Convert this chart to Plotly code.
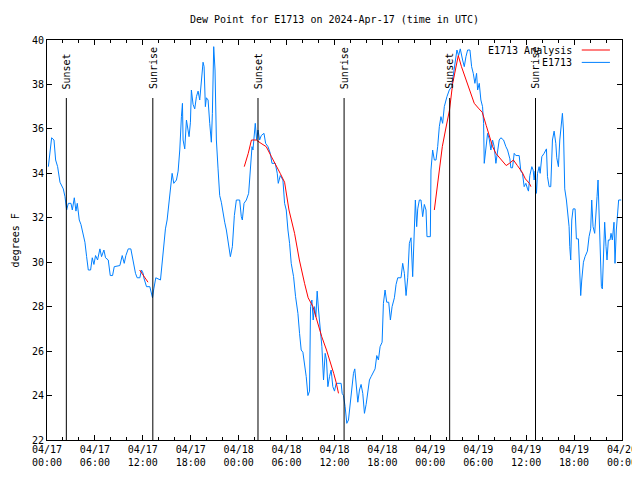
import pandas as pd
import plotly.graph_objects as go

base_date = "2024-04-17 00:00"
title_text = "Dew Point for E1713 on 2024-Apr-17 (time in UTC)"

# Observed dew point (hours since 04/17 00:00 UTC, degrees F)
obs_hours = [0.17, 0.375, 0.58, 0.875, 1.08, 1.33, 1.625, 2.04, 2.25, 2.46, 2.67, 3.0, 3.17, 3.42, 3.625, 3.79,
             4.04, 4.25, 4.54, 4.75, 4.96, 5.17, 5.46, 5.67, 5.875, 6.08, 6.33, 6.625, 6.83, 7.125, 7.33, 7.67,
             7.92, 8.21, 8.42, 9.125, 9.42, 9.67, 9.875, 10.17, 10.5, 10.79, 11.08, 11.29, 11.625, 11.83, 12.04,
             12.125, 12.46, 12.875, 13.08, 13.21, 13.375, 13.625, 14.21, 14.42, 14.625, 14.83, 15.04, 15.29,
             15.46, 15.67, 15.875, 16.21, 16.42, 16.625, 16.83, 16.96, 17.04, 17.25, 17.46, 17.67, 17.79, 17.96,
             18.08, 18.29, 18.5, 18.71, 18.92, 19.125, 19.33, 19.54, 19.67, 19.83, 19.96, 20.17, 20.375, 20.58,
             20.71, 20.875, 21.04, 21.21, 21.42, 21.625, 21.83, 22.04, 22.25, 22.46, 22.67, 22.96, 23.21, 23.46,
             23.71, 24.125, 24.33, 24.46, 24.67, 24.96, 25.25, 25.5, 25.67, 25.79, 25.92, 26.08, 26.25, 26.42,
             26.625, 26.83, 27.17, 27.375, 27.67, 27.96, 28.17, 28.58, 28.83, 28.96, 29.21, 29.54, 29.75, 29.96,
             30.17, 30.375, 30.58, 30.875, 31.125, 31.42, 31.625, 31.83, 32.04, 32.25, 32.46, 32.67, 32.875,
             33.0, 33.17, 33.33, 33.5, 33.67, 33.83, 34.0, 34.21, 34.42, 34.625, 34.83, 35.0, 35.17, 35.375,
             35.58, 35.79, 36.0, 36.21, 36.83, 36.96, 37.125, 37.33, 37.54, 37.75, 37.96, 38.17, 38.375, 38.54,
             38.71, 38.92, 39.125, 39.33, 39.54, 39.75, 39.96, 40.17, 40.375, 40.58, 40.79, 41.08, 41.29, 41.5,
             41.71, 41.96, 42.125, 42.33, 42.54, 42.79, 43.0, 43.21, 43.5, 43.71, 43.92, 44.33, 44.54, 44.75,
             44.96, 45.17, 45.375, 45.58, 45.79, 46.0, 46.125, 46.29, 46.42, 46.625, 46.83, 47.04, 47.25, 47.46,
             47.58, 48.0, 48.08, 48.29, 48.5, 48.71, 48.92, 49.125, 49.33, 49.54, 49.75, 50.08, 50.375, 50.67,
             50.92, 51.125, 51.33, 51.54, 51.75, 52.04, 52.25, 52.46, 52.67, 52.96, 53.17, 53.375, 53.58, 53.79,
             53.92, 54.125, 54.33, 54.54, 54.67, 54.75, 54.96, 55.17, 55.375, 55.58, 55.79, 56.0, 56.21, 56.42,
             56.625, 56.83, 57.17, 57.46, 57.67, 57.96, 58.08, 58.29, 58.5, 58.71, 59.125, 59.33, 59.54, 59.75,
             59.96, 60.17, 60.29, 60.46, 60.71, 60.875, 61.0, 61.125, 61.29, 61.42, 61.625, 61.75, 61.96, 62.25,
             62.54, 62.67, 62.875, 63.08, 63.17, 63.29, 63.5, 63.71, 63.83, 64.04, 64.21, 64.42, 64.54, 64.67,
             64.83, 65.04, 65.25, 65.375, 65.46, 65.58, 65.71, 65.875, 66.125, 66.29, 66.54, 66.71, 66.83, 66.96,
             67.17, 67.375, 67.67, 67.875, 68.08, 68.21, 68.375, 68.58, 68.71, 68.875, 69.0, 69.125, 69.25,
             69.42, 69.54, 69.67, 69.83, 70.0, 70.125, 70.29, 70.5, 70.625, 70.79, 71.0, 71.125, 71.29, 71.46,
             71.58, 71.9]
obs_values = [34.3, 35.05, 35.6, 35.5, 34.6, 34.3, 33.6, 33.3, 32.95, 32.35, 32.65, 32.65, 32.35, 32.9, 32.3, 32.65,
              31.9, 31.7, 31.3, 30.9, 30.25, 29.65, 29.65, 30.2, 29.9, 30.3, 30.1, 30.6, 30.25, 30.55, 30.2, 30.1,
              29.4, 29.4, 29.8, 29.85, 30.3, 29.95, 30.3, 30.6, 30.6, 30.0, 29.5, 29.3, 29.3, 29.65, 29.5,
              29.3, 28.9, 28.9, 28.5, 28.4, 28.8, 29.3, 29.2, 30.1, 30.8, 31.5, 31.9, 32.8,
              33.4, 34.0, 33.55, 33.7, 34.1, 35.05, 36.55, 37.15, 35.5, 35.1, 36.4, 35.8, 35.65, 36.3,
              37.75, 37.1, 36.9, 37.45, 37.7, 37.3, 38.2, 39.0, 38.8, 37.0, 37.4, 37.3, 36.25, 35.4,
              36.7, 39.7, 38.65, 35.5, 34.2, 33.0, 32.7, 32.2, 31.8, 31.45, 30.9, 30.25, 30.7, 32.1,
              32.8, 32.8, 32.05, 31.9, 32.65, 32.8, 33.1, 34.3, 35.2, 35.05, 35.65, 36.25, 35.5, 35.95,
              35.5, 35.7, 35.8, 35.35, 35.2, 34.9, 34.45, 34.45, 34.0, 33.55, 33.9, 33.7, 32.65, 32.35,
              31.45, 30.85, 29.95, 29.35, 28.45, 27.7, 26.8, 26.05, 25.95, 25.4, 24.85, 24.0, 24.2,
              28.0, 28.3, 27.4, 28.0, 27.55, 28.7, 27.85, 27.1, 26.2, 24.7, 25.9, 25.6, 24.4, 24.85,
              25.15, 24.4, 24.2, 24.55, 24.55, 24.1, 24.0, 23.5, 22.75, 22.9, 23.6, 24.1, 25.0, 25.2,
              24.4, 23.7, 24.25, 24.5, 24.1, 23.2, 23.6, 24.25, 24.7, 24.85, 25.0, 25.2, 25.8, 25.6,
              26.2, 26.4, 28.15, 28.75, 28.2, 28.2, 27.4, 28.0, 28.4, 29.0, 29.3, 29.3, 29.95, 29.5,
              28.5, 29.3, 30.85, 31.1, 29.35, 31.6, 32.8, 31.6, 32.4, 32.8, 32.8, 32.05, 32.6, 32.35,
              31.15, 31.15, 34.15, 35.05, 34.6, 34.6, 35.2, 36.1, 36.55, 36.25, 37.0, 37.45, 37.75, 37.9,
              38.5, 39.1, 39.55, 39.3, 39.6, 39.1, 38.8, 39.25, 39.55, 39.55, 38.8, 38.5, 38.05, 38.5,
              37.75, 38.05, 37.3, 37.0, 36.25, 34.45, 35.2, 35.8, 35.55, 35.05, 35.5, 35.2, 34.45, 35.05,
              35.5, 35.6, 35.5, 35.2, 35.05, 34.65, 34.25, 34.25, 34.9, 34.8, 34.8, 34.1, 34.0, 33.4,
              33.55, 33.3, 33.2, 33.9, 34.3, 34.15, 33.7, 34.1, 33.1, 34.0, 34.3, 34.0, 34.75, 34.9,
              35.1, 33.85, 33.4, 33.4, 34.3, 35.5, 35.9, 35.35, 34.7, 34.3, 35.5, 36.4, 36.7, 35.95,
              33.3, 32.8, 32.2, 31.6, 30.7, 30.1, 31.9, 32.4, 32.4, 31.05, 31.05, 29.2, 28.5, 29.2,
              30.0, 30.25, 30.5, 31.15, 31.5, 32.8, 31.6, 31.3, 32.35, 32.95, 33.7, 32.2, 30.25,
              28.9, 28.8, 30.25, 31.8, 30.7, 30.1, 31.0, 31.0, 31.3, 31.0, 31.8, 29.95, 31.45, 32.35,
              32.8, 32.8]

# Analysis (None marks gaps between analysis segments)
ana_hours = [11.6, 12.0, 12.65, None,
             24.7, 25.2, 25.6, 26.2, 26.8, 27.45, 28.1, 28.7, 29.2, 29.75, 30.3, 31.0, 31.6, 32.25, 32.7,
             33.3, 33.9, 34.4, 35.0, 35.5, 35.9, 36.2, 36.5, None,
             48.5, 49.0, 49.5, 49.9, 50.4, 50.8, 51.2, 51.5, 51.9, 52.5, 53.1, 53.5, 54.1, 54.5, 55.0,
             55.4, 55.8, 56.2, 56.8, 57.5, 57.9, 58.4, 58.9, 59.5, 59.9, 60.4, 60.6]
ana_values = [29.65, 29.45, 29.1, None,
              34.3, 34.9, 35.5, 35.5, 35.35, 35.2, 34.75, 34.3, 34.0, 33.6, 32.35, 31.3, 30.1, 29.05, 28.4,
              28.0, 27.25, 26.65, 26.05, 25.5, 25.0, 24.6, 24.1, None,
              32.35, 33.7, 35.2, 35.95, 36.85, 38.05, 38.8, 39.3, 38.8, 38.2, 37.6, 37.15, 36.9, 36.75, 36.15,
              35.7, 35.2, 34.9, 34.65, 34.35, 34.45, 34.6, 34.35, 34.05, 33.75, 33.55, 33.4]

# Sun events (hours since 04/17 00:00 UTC)
sun_hours = [2.42, 13.25, 26.42, 37.2, 50.42, 61.17]
sun_labels = ["Sunset", "Sunrise", "Sunset", "Sunrise", "Sunset", "Sunrise"]

y_range = [22, 40]
x_end = "2024-04-20 00:00"

t0 = pd.Timestamp(base_date)


def to_time(hours):
    return [None if h is None else t0 + pd.Timedelta(hours=h) for h in hours]


mono = "DejaVu Sans Mono"
fig = go.Figure()
fig.add_trace(go.Scatter(x=to_time(obs_hours), y=obs_values, mode="lines", name="E1713",
                         line=dict(color="rgb(0,128,255)", width=1)))
fig.add_trace(go.Scatter(x=to_time(ana_hours), y=ana_values, mode="lines", name="E1713 Analysis",
                         line=dict(color="#ff0000", width=1), connectgaps=False))

shapes = []
annotations = []
for h, lab in zip(sun_hours, sun_labels):
    t = t0 + pd.Timedelta(hours=h)
    shapes.append(dict(type="line", xref="x", yref="paper", x0=t, x1=t, y0=0, y1=0.855,
                       line=dict(color="black", width=1)))
    annotations.append(dict(x=t, y=0.872, xref="x", yref="paper", text=lab, showarrow=False,
                            textangle=-90, xanchor="center", yanchor="bottom",
                            font=dict(family=mono, size=10, color="black")))

# gnuplot-style legend (text right, sample line left)
legend_rows = [("E1713 Analysis", "#ff0000", 0.975), ("E1713", "rgb(0,128,255)", 0.944)]
for text, col, yy in legend_rows:
    annotations.append(dict(x=0.917, y=yy, xref="paper", yref="paper", text=text, showarrow=False,
                            xanchor="right", yanchor="middle", font=dict(family=mono, size=10, color="black")))
    shapes.append(dict(type="line", xref="paper", yref="paper", x0=0.930, x1=0.979, y0=yy, y1=yy,
                       line=dict(color=col, width=1)))

annotations.append(dict(x=-0.055, y=0.5, xref="paper", yref="paper", text="degrees F", showarrow=False,
                        textangle=-90, xanchor="center", yanchor="middle",
                        font=dict(family=mono, size=10, color="black")))

# The page body adds an 8px offset, so the figure is 8px smaller and margins shifted.
fig.update_layout(
    width=632, height=472,
    margin=dict(l=39, r=18, t=32, b=40, autoexpand=False),
    paper_bgcolor="white", plot_bgcolor="white",
    showlegend=False,
    title=dict(text=title_text, x=0.5, xref="paper", y=1 - 11 / 472, yref="container", xanchor="center",
               yanchor="middle", font=dict(family=mono, size=10, color="black"), automargin=False),
    font=dict(family=mono, size=10, color="black"),
    shapes=shapes, annotations=annotations,
    xaxis=dict(range=[t0, pd.Timestamp(x_end)], dtick=6 * 3600 * 1000, tick0=t0, automargin=False,
               tickformat="%m/%d<br>%H:%M", ticks="inside", ticklen=5, tickcolor="black",
               showline=True, linecolor="black", linewidth=1, mirror="allticks", showgrid=False,
               zeroline=False,
               minor=dict(dtick=2 * 3600 * 1000, ticks="inside", ticklen=3, tickcolor="black",
                          showgrid=False)),
    yaxis=dict(range=y_range, dtick=2, ticks="inside", ticklen=5, tickcolor="black", automargin=False,
               showline=True, linecolor="black", linewidth=1, mirror="allticks", showgrid=False,
               zeroline=False),
)

fig.write_html("out.html")
